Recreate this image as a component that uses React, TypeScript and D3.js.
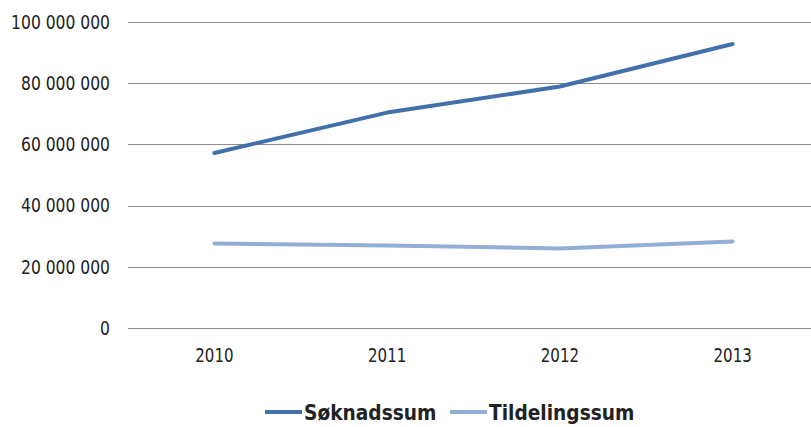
import * as d3 from 'd3';
import { useEffect, useRef } from 'react';

const years = ['2010', '2011', '2012', '2013'];
const soknadssum = [57200000, 70400000, 78900000, 92800000];
const tildelingssum = [27600000, 27000000, 26000000, 28300000];
const yTicks = [0, 20000000, 40000000, 60000000, 80000000, 100000000];

const seriesNames = ['Søknadssum', 'Tildelingssum'];
const seriesColors = ['#4270AB', '#93AFD6'];

const font = "'DejaVu Sans Condensed', 'Open Sans', sans-serif";

export default function App() {
    const ref = useRef<SVGSVGElement | null>(null);

    useEffect(() => {
        if (!ref.current) return;
        const svg = d3.select(ref.current);
        svg.selectAll('*').remove();

        const width = 811;
        const height = 427;
        const margin = { top: 22, bottom: 99, left: 128 };

        const x = d3.scaleBand().domain(years).range([margin.left, 819]);
        const y = d3
            .scaleLinear()
            .domain([0, 100000000])
            .range([height - margin.bottom, margin.top]);

        const fmt = (v: number) => d3.format(',')(v).replace(/,/g, ' ');

        // gridlines
        svg.append('g')
            .selectAll('line')
            .data(yTicks)
            .join('line')
            .attr('x1', margin.left)
            .attr('x2', width)
            .attr('y1', (d) => Math.round(y(d)) + 0.5)
            .attr('y2', (d) => Math.round(y(d)) + 0.5)
            .attr('stroke', '#8c8c8c')
            .attr('stroke-width', 1);

        svg.append('g')
            .selectAll('text')
            .data(yTicks)
            .join('text')
            .attr('transform', (d) => `translate(110,${y(d)}) scale(0.91,1)`)
            .attr('dy', '0.36em')
            .attr('text-anchor', 'end')
            .attr('font-family', font)
            .attr('font-size', 19)
            .attr('fill', '#222')
            .text((d) => fmt(d));

        svg.append('g')
            .selectAll('text')
            .data(years)
            .join('text')
            .attr('transform', (d) => `translate(${x(d)! + x.bandwidth() / 2},362) scale(0.88,1)`)
            .attr('text-anchor', 'middle')
            .attr('font-family', font)
            .attr('font-size', 19)
            .attr('fill', '#222')
            .text((d) => d);

        const line = d3
            .line<number>()
            .x((_, i) => x(years[i])! + x.bandwidth() / 2)
            .y((d) => y(d));

        [tildelingssum, soknadssum].forEach((s, k) => {
            svg.append('path')
                .datum(s)
                .attr('d', line)
                .attr('fill', 'none')
                .attr('stroke', seriesColors[1 - k])
                .attr('stroke-width', 4)
                .attr('stroke-linecap', 'round')
                .attr('stroke-linejoin', 'round');
        });

        // legend
        const legendX = [265, 450];
        const legend = svg.append('g');
        seriesNames.forEach((name, i) => {
            legend.append('line')
                .attr('x1', legendX[i])
                .attr('x2', legendX[i] + 37)
                .attr('y1', 412)
                .attr('y2', 412)
                .attr('stroke', seriesColors[i])
                .attr('stroke-width', 4);
            legend.append('text')
                .attr('transform', `translate(${legendX[i] + 39},412) scale(0.94,1)`)
                .attr('dy', '0.36em')
                .attr('font-family', font)
                .attr('font-size', 22)
                .attr('font-weight', 'bold')
                .attr('fill', '#222')
                .text(name);
        });
    }, []);

    return (
        <svg
            ref={ref}
            width={811}
            height={427}
            style={{ position: 'absolute', left: 0, top: 0, background: '#fff' }}
        />
    );
}
